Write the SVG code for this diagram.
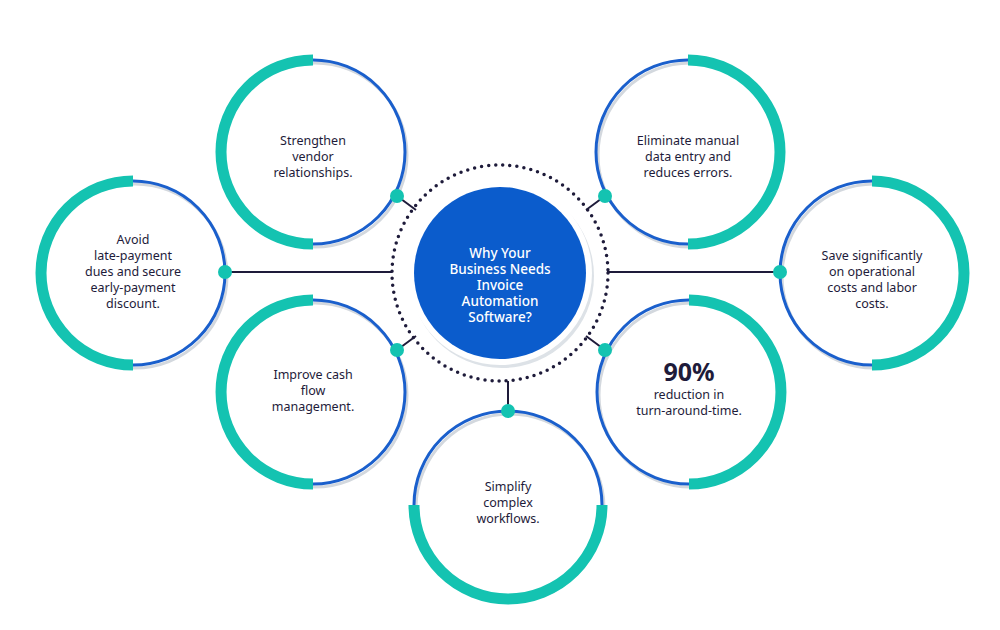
<svg xmlns="http://www.w3.org/2000/svg" width="1000" height="630" viewBox="0 0 1000 630">
<style>
.blue{fill:none;stroke:#1a5fcc;stroke-width:3}
.sh{fill:none;stroke:#d3d8de;stroke-width:3}
.teal{fill:none;stroke:#14c3b1;stroke-width:11}
.dot{fill:#14c3b1}
.t{font-family:"Noto Sans","Open Sans",sans-serif;font-size:12.5px;fill:#1e1b3a;text-anchor:middle}
.c{font-family:"Noto Sans","Open Sans",sans-serif;font-size:13.5px;fill:#fff;text-anchor:middle;font-weight:500}
.ln{stroke:#1e1b3a;stroke-width:2;fill:none}
</style>
<rect width="1000" height="630" fill="#fff"/>
<g id="connectors">
<line class="ln" x1="225" y1="272" x2="392" y2="272"/>
<line class="ln" x1="607" y1="272" x2="780" y2="272"/>
<line class="ln" x1="397" y1="196" x2="416" y2="210"/>
<line class="ln" x1="397" y1="350" x2="416" y2="336"/>
<line class="ln" x1="605" y1="196" x2="586" y2="210"/>
<line class="ln" x1="605" y1="350" x2="586" y2="336"/>
<line class="ln" x1="508" y1="411" x2="508" y2="381"/>
</g>
<g id="center">
<circle cx="500" cy="273" r="108" fill="none" stroke="#1e1b3a" stroke-width="3.5" stroke-dasharray="0 7.1" stroke-linecap="round"/>
<circle cx="502" cy="276" r="92" fill="#dde2e7"/>
<circle cx="500" cy="273" r="92" fill="#fff"/>
<circle cx="500" cy="273" r="86" fill="#0b5ccc"/>
<text class="c" x="500" y="258">Why Your</text>
<text class="c" x="500" y="274">Business Needs</text>
<text class="c" x="500" y="290">Invoice</text>
<text class="c" x="500" y="306">Automation</text>
<text class="c" x="500" y="322">Software?</text>
</g>
<g id="n-strengthen">
<circle class="sh" cx="315" cy="155" r="92"/>
<circle class="blue" cx="313" cy="152" r="92"/>
<path class="teal" d="M313 60 A92 92 0 0 0 313 244"/>
<circle class="dot" cx="397" cy="196" r="7"/>
<text class="t" x="313" y="145">Strengthen</text>
<text class="t" x="313" y="161">vendor</text>
<text class="t" x="313" y="177">relationships.</text>
</g>
<g id="n-avoid">
<circle class="sh" cx="135" cy="276" r="92"/>
<circle class="blue" cx="133" cy="273" r="92"/>
<path class="teal" d="M133 181 A92 92 0 0 0 133 365"/>
<circle class="dot" cx="225" cy="272" r="7"/>
<text class="t" x="133" y="244">Avoid</text>
<text class="t" x="133" y="260">late-payment</text>
<text class="t" x="133" y="276">dues and secure</text>
<text class="t" x="133" y="292">early-payment</text>
<text class="t" x="133" y="308">discount.</text>
</g>
<g id="n-cash">
<circle class="sh" cx="315" cy="395" r="92"/>
<circle class="blue" cx="313" cy="392" r="92"/>
<path class="teal" d="M313 300 A92 92 0 0 0 313 484"/>
<circle class="dot" cx="397" cy="350" r="7"/>
<text class="t" x="313" y="379">Improve cash</text>
<text class="t" x="313" y="395">flow</text>
<text class="t" x="313" y="411">management.</text>
</g>
<g id="n-simplify">
<circle class="sh" cx="510" cy="508" r="94"/>
<circle class="blue" cx="508" cy="505" r="94"/>
<path class="teal" d="M414 505 A94 94 0 0 0 602 505"/>
<circle class="dot" cx="508" cy="411" r="7"/>
<text class="t" x="508" y="491">Simplify</text>
<text class="t" x="508" y="507">complex</text>
<text class="t" x="508" y="523">workflows.</text>
</g>
<g id="n-eliminate">
<circle class="sh" cx="690" cy="155" r="92"/>
<circle class="blue" cx="688" cy="152" r="92"/>
<path class="teal" d="M688 60 A92 92 0 0 1 688 244"/>
<circle class="dot" cx="605" cy="196" r="7"/>
<text class="t" x="688" y="145">Eliminate manual</text>
<text class="t" x="688" y="161">data entry and</text>
<text class="t" x="688" y="177">reduces errors.</text>
</g>
<g id="n-save">
<circle class="sh" cx="874" cy="276" r="92"/>
<circle class="blue" cx="872" cy="273" r="92"/>
<path class="teal" d="M872 181 A92 92 0 0 1 872 365"/>
<circle class="dot" cx="780" cy="272" r="7"/>
<text class="t" x="872" y="260">Save significantly</text>
<text class="t" x="872" y="276">on operational</text>
<text class="t" x="872" y="292">costs and labor</text>
<text class="t" x="872" y="308">costs.</text>
</g>
<g id="n-90">
<circle class="sh" cx="691" cy="395" r="92"/>
<circle class="blue" cx="689" cy="392" r="92"/>
<path class="teal" d="M689 300 A92 92 0 0 1 689 484"/>
<circle class="dot" cx="605" cy="350" r="7"/>
<text x="689" y="381" font-family="'Noto Sans',sans-serif" font-size="25" font-weight="bold" fill="#1e1b3a" text-anchor="middle">90%</text>
<text class="t" x="689" y="399">reduction in</text>
<text class="t" x="689" y="415">turn-around-time.</text>
</g>
</svg>
